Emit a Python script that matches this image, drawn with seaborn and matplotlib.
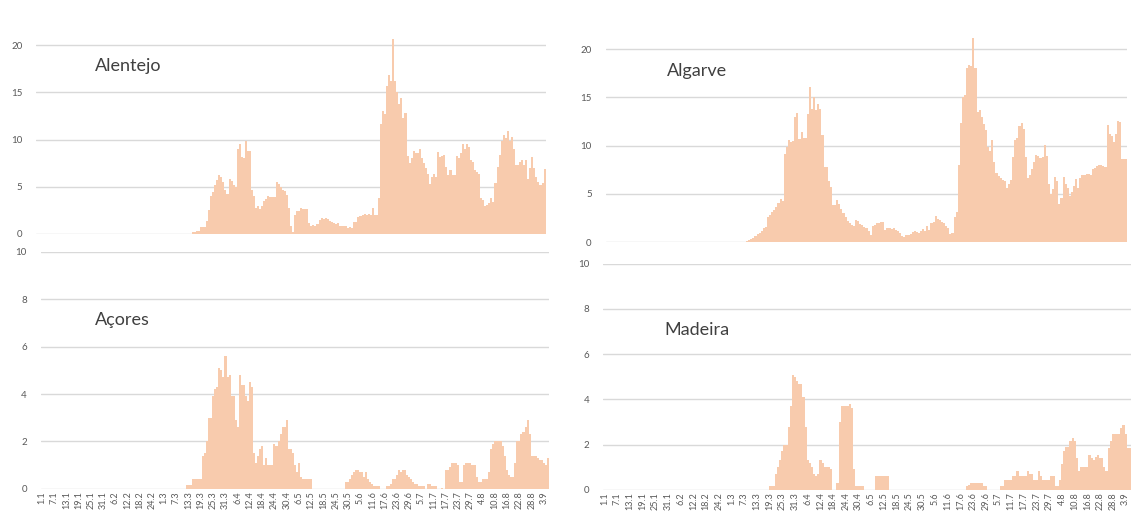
import numpy as np
import pandas as pd
import seaborn as sns
import matplotlib.pyplot as plt

# daily values 1.1.2020 -> 5.9.2020 (249 days); only the non-zero tail is listed,
# the leading days are zero
n_days = 249
dates = pd.date_range('2020-01-01', periods=n_days, freq='D')
day_labels = [f"{d.day}.{d.month}" for d in dates]

alentejo = [0.2, 0.2, 0.3, 0.3, 0.7, 0.7, 0.7,
            1.4, 2.5, 4.0, 4.4, 5.2, 5.7, 6.2, 6.0, 5.5, 4.6, 4.2, 5.8, 5.6, 5.2, 5.0,
            9.0, 9.5, 8.2, 8.0, 9.8, 8.8, 8.8,
            4.7, 4.0, 2.7, 3.0, 2.6, 3.0, 3.5, 3.7, 4.0, 3.9, 3.9, 3.9,
            5.5, 5.3, 5.0, 4.7, 4.5, 4.1, 2.7, 0.8, 0.2,
            2.0, 2.4, 2.4, 2.7, 2.6, 2.6, 2.6,
            1.2, 0.8, 0.9, 0.8, 1.0, 1.5, 1.7, 1.6, 1.7, 1.6, 1.4, 1.3, 1.2, 1.0, 1.2,
            0.8, 0.8, 0.8, 0.8, 0.6, 0.7, 0.6,
            1.3, 1.3, 1.8, 1.9, 2.0, 2.1, 2.0, 2.1, 2.0, 2.7, 2.0, 2.0,
            3.8, 11.6, 13.0, 12.7, 15.7, 16.8, 16.2, 20.7, 16.2, 15.0, 13.8, 14.4, 12.3, 12.8,
            8.3, 7.5, 8.0, 8.8, 8.6, 8.6, 9.0, 8.0, 7.5, 7.0, 6.3, 5.3, 6.0, 6.3, 6.0,
            8.7, 8.2, 8.3, 8.4, 7.1, 6.2, 6.8, 6.2, 6.2, 8.3, 8.0, 8.6, 9.5, 9.0, 9.5,
            9.2, 7.8, 7.6, 6.8, 6.6, 6.3,
            3.8, 3.6, 3.0, 3.1, 3.3, 3.8, 3.4,
            5.4, 7.1, 8.4, 9.8, 10.5, 10.2, 10.9, 9.9, 10.3, 9.0, 7.3, 7.3, 7.6, 7.8,
            7.3, 7.8, 5.8, 7.0, 8.1, 7.0, 6.0, 5.5, 5.2, 5.4, 6.9]

algarve = [0.1, 0.2, 0.3, 0.4,
           0.6, 0.8, 0.9, 1.1, 1.5, 1.6,
           2.6, 2.8, 3.1, 3.3, 3.6, 4.1, 4.5, 4.3,
           9.1, 9.9, 10.6, 10.4,
           10.5, 13.0, 13.4, 10.7, 11.4, 10.8, 10.8,
           13.3, 16.1, 13.8, 15.0, 13.7, 14.3, 13.8, 11.1, 7.8, 7.8, 6.3, 5.7,
           3.8, 3.8, 4.4, 3.9, 3.4, 3.0, 2.6, 2.2, 2.0, 1.8, 1.7, 2.3, 2.2, 1.9,
           1.8, 1.6, 1.5, 1.2, 0.7, 1.7, 1.8, 2.0, 2.0, 2.1, 2.1,
           1.3, 1.5, 1.5, 1.4, 1.5, 1.3, 1.1, 0.9, 0.6, 0.5, 0.7, 0.7, 0.8,
           1.0, 1.2, 1.0, 0.9, 1.2, 1.4, 1.1, 1.7, 1.3, 2.0, 2.1, 2.7, 2.4,
           2.3, 2.1, 2.0, 1.7, 1.5, 0.8, 0.9, 2.6, 3.1,
           8.0, 12.3, 15.0, 15.2, 18.0, 18.4, 18.3, 21.2, 18.0, 13.5, 13.7, 13.0,
           12.2, 11.6, 9.9, 9.4, 10.6, 8.3, 7.2, 6.9, 6.6, 6.4, 6.3, 5.6, 6.0,
           6.4, 8.8, 10.6, 10.8, 12.0, 12.3, 11.7, 8.8, 6.6, 7.0, 7.6, 8.3,
           9.0, 8.9, 8.7, 8.8, 10.1, 8.9, 6.0, 5.0, 5.5, 6.8, 6.3, 3.9, 4.6, 6.7,
           6.0, 5.6, 4.8, 5.2, 5.8, 6.5, 5.6, 6.6, 7.0, 7.0, 7.1, 7.1,
           7.0, 7.6, 7.7, 7.9, 8.0, 8.0, 7.9, 7.8, 12.1, 11.2, 11.0, 10.4, 11.2,
           12.6, 12.5, 8.6, 8.6, 8.6]

acores = [0.15, 0.15, 0.15, 0.4, 0.4, 0.4, 0.4, 0.4,
          1.4, 1.5, 2.0, 3.0, 3.0, 3.9, 4.2, 4.3, 5.1, 5.0, 4.7, 5.6, 4.7, 4.8,
          3.9, 3.9, 2.9, 2.6, 4.8, 4.4, 4.4, 3.9, 3.7, 4.5, 4.3,
          1.5, 1.1, 1.4, 1.7, 1.8, 1.0, 1.3, 1.0, 1.0, 1.0,
          1.9, 1.8, 2.0, 2.3, 2.6, 2.6, 2.9, 1.7, 1.7, 1.5, 1.0, 0.7, 1.1, 0.5,
          0.4, 0.4, 0.4, 0.4, 0.4,
          0, 0, 0, 0, 0, 0, 0, 0, 0, 0, 0, 0, 0, 0, 0, 0,
          0.3, 0.3, 0.4, 0.6, 0.7, 0.8, 0.8, 0.7, 0.7, 0.5, 0.7, 0.4, 0.3, 0.2,
          0.1, 0.1, 0.1, 0, 0, 0,
          0.1, 0.1, 0.2, 0.4, 0.4, 0.6, 0.8, 0.7, 0.8, 0.8, 0.6, 0.5, 0.4, 0.3,
          0.2, 0.2, 0.1, 0.1, 0.1, 0.0, 0.2, 0.2, 0.1, 0.1, 0.1, 0, 0, 0.02, 0,
          0.8, 0.8, 0.9, 1.1, 1.1, 1.1, 1.0, 0.3, 0.3, 1.0, 1.1, 1.1, 1.1, 1.0,
          1.0, 0.5, 0.3, 0.3, 0.4, 0.4, 0.4, 0.7,
          1.7, 1.9, 2.0, 2.0, 2.0, 2.0, 1.8, 1.4, 0.8, 0.6, 0.5, 0.5,
          1.1, 2.0, 2.0, 2.3, 2.4, 2.6, 2.9, 2.3, 1.4, 1.4, 1.4, 1.3, 1.2, 1.2,
          1.1, 1.0, 1.3]

madeira = [0.15, 0.15, 0.15,
           0.7, 1.0, 1.3, 1.7, 2.0, 2.0, 2.8, 3.7, 5.1, 5.0, 4.8, 4.7, 4.7, 4.1,
           2.8, 1.3, 1.2, 1.0, 0.7, 0.6, 0.7, 1.3, 1.2, 1.0, 1.0, 1.0, 0.9,
           0, 0, 0.3, 3.0, 3.7, 3.7, 3.7, 3.7, 3.8, 3.6, 0.9,
           0.15, 0.15, 0.15, 0.15, 0, 0, 0, 0, 0,
           0.6, 0.6, 0.6, 0.6, 0.6, 0.6, 0.6,
           0, 0, 0, 0, 0, 0, 0, 0, 0, 0, 0, 0, 0, 0, 0, 0, 0, 0,
           0, 0, 0, 0, 0, 0, 0, 0, 0, 0, 0, 0, 0, 0, 0, 0, 0, 0,
           0.15, 0.2, 0.3, 0.3, 0.3, 0.3, 0.3, 0.3, 0.15, 0.15,
           0, 0, 0, 0, 0, 0,
           0.15, 0.15, 0.45, 0.45, 0.45, 0.45, 0.6, 0.6, 0.85, 0.6, 0.6,
           0.6, 0.6, 0.85, 0.7, 0.7, 0.45, 0.45, 0.85, 0.6, 0.45, 0.45,
           0.45, 0.45, 0.6, 0.6, 0.15, 0.15, 0.45,
           1.15, 1.7, 1.9, 1.9, 2.15, 2.3, 2.15, 1.4, 0.85, 1.0, 1.0, 1.0,
           1.0, 1.55, 1.4, 1.3, 1.45, 1.55, 1.4, 1.4, 1.0, 0.85,
           1.85, 2.15, 2.45, 2.45, 2.45, 2.45, 2.75, 2.85, 2.45, 1.85, 1.85]


def full_series(tail):
    tail = list(tail)[-n_days:]
    return [0.0] * (n_days - len(tail)) + tail


bar_color = '#f8cbad'
grid_color = '#d9d9d9'
text_color = '#595959'

sns.set_style('white')
plt.rcParams['font.family'] = ['Lato', 'DejaVu Sans']

fig = plt.figure(figsize=(11.32, 5.14), dpi=100)

# name, values, [left, bottom, width, height], ylim top, y ticks, title position, show x labels
panels = [
    ('Alentejo', alentejo, [0.032, 0.545, 0.450, 0.455], 24.8, [0, 5, 10, 15, 20], (0.084, 0.872), False),
    ('Algarve', algarve, [0.535, 0.529, 0.461, 0.471], 25.1, [0, 5, 10, 15, 20], (0.589, 0.862), False),
    ('Açores', acores, [0.036, 0.049, 0.449, 0.461], 10, [0, 2, 4, 6, 8, 10], (0.084, 0.377), True),
    ('Madeira', madeira, [0.533, 0.047, 0.466, 0.440], 10, [0, 2, 4, 6, 8, 10], (0.587, 0.358), True),
]

for name, tail, rect, ytop, yticks, title_xy, show_x in panels:
    ax = fig.add_axes(rect)
    ax.patch.set_alpha(0)
    vals = full_series(tail)
    sns.barplot(x=day_labels, y=vals, ax=ax, color=bar_color, saturation=1,
                width=1.0, linewidth=0, errorbar=None)
    ax.set_xlim(-0.5, n_days - 0.5)
    ax.set_ylim(0, ytop)
    ax.set_yticks(yticks)
    ax.set_yticklabels([str(t) for t in yticks], fontsize=7, color=text_color)
    ax.yaxis.grid(True, color=grid_color, linewidth=1)
    ax.set_axisbelow(True)
    ax.tick_params(axis='y', length=0, pad=10)
    for s in ax.spines.values():
        s.set_visible(False)
    if show_x:
        ax.set_xticks(range(0, n_days, 6))
        ax.set_xticklabels(day_labels[::6], rotation=90, fontsize=6.5, color=text_color)
        ax.tick_params(axis='x', length=0, pad=2)
    else:
        ax.set_xticks([])
    ax.set_xlabel('')
    ax.set_ylabel('')
    fig.text(title_xy[0], title_xy[1], name, fontsize=13, color='#404040',
             ha='left', va='center')

fig.savefig('out.png', dpi=100)
